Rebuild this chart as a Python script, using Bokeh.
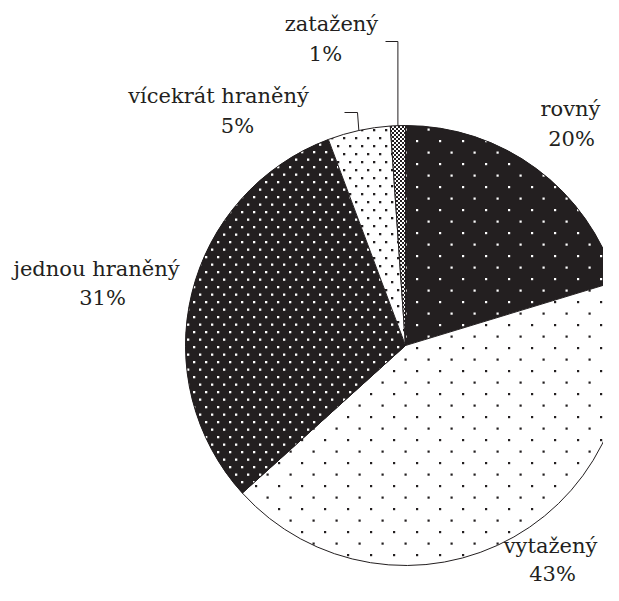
import base64
import math
from bokeh.plotting import figure, ColumnDataSource
from bokeh.models import Range1d, ImageURLTexture
from bokeh.core.properties import value, field
from bokeh.embed import file_html
from bokeh.resources import INLINE

# ---- data (clockwise from 12 o'clock) ----
categories = ["rovný", "vytažený", "jednou hraněný", "vícekrát hraněný", "zatažený"]
shares = [20.3, 43.0, 31.0, 4.6, 1.1]
pct_labels = [f"{round(v)}%" for v in shares]

# ---- layout (pixel coordinates of the 619x601 picture) ----
IMG_H = 601
CX, CY, R = 405, 345, 220
INK = "#231f20"
W, H = 603, 585
TEXT_DY = -10  # renderer places baselines ~10px low

def Y(py):
    return IMG_H - py

# label positions: (name x, name baseline, pct x, pct baseline)
label_pos = {
    "rovný": (570, 118, 571, 148),
    "vytažený": (550, 555, 552, 583),
    "jednou hraněný": (96, 278, 102, 307),
    "vícekrát hraněný": (218, 105, 237, 135),
    "zatažený": (331, 33, 325, 63),
}
# leader lines: elbow points after the rim point
leader_pts = {
    "zatažený": [(None, 41), (385, 41)],
    "vícekrát hraněný": [(357, 112), (344, 112)],
}

def tile(w, h, bg, fg, dots, s):
    rects = "".join(
        f'<rect x="{x}" y="{y}" width="{s}" height="{s}" fill="{fg}"/>' for x, y in dots
    )
    svg = (f'<svg xmlns="http://www.w3.org/2000/svg" width="{w}" height="{h}">'
           f'<rect width="{w}" height="{h}" fill="{bg}"/>{rects}</svg>')
    return "data:image/svg+xml;base64," + base64.b64encode(svg.encode()).decode()

textures = {
    "pA": ImageURLTexture(url=tile(23, 23, INK, "white", [(2, 2), (13.5, 13.5)], 2.2)),
    "pB": ImageURLTexture(url=tile(23, 23, "white", INK, [(2, 2), (13.5, 13.5)], 2.2)),
    "pC": ImageURLTexture(url=tile(12, 15, INK, "white", [(1, 1), (7, 8.5)], 2.3)),
    "pD": ImageURLTexture(url=tile(12, 16, "white", INK, [(1, 1), (7, 9)], 2.3)),
    "pE": ImageURLTexture(url=tile(4, 4, "white", INK, [(0, 0), (2, 2)], 2)),
}
slice_pattern = ["pA", "pB", "pC", "pD", "pE"]
slice_fill = [INK, "white", INK, "white", "white"]

total = sum(shares)
cum = 0.0
starts, ends, mids = [], [], []
for v in shares:
    a0 = cum / total * 360.0
    cum += v
    a1 = cum / total * 360.0
    starts.append(math.radians(90 - a1))
    ends.append(math.radians(90 - a0))
    mids.append((a0 + a1) / 2)

src = ColumnDataSource(dict(
    cat=categories, start=starts, end=ends,
    color=slice_fill, pat=slice_pattern,
))

p = figure(width=W, height=H, output_backend="svg", toolbar_location=None,
           x_range=Range1d(0, W), y_range=Range1d(Y(H), Y(0)),
           x_axis_type=None, y_axis_type=None,
           min_border=0, outline_line_color=None, background_fill_color="white")
p.grid.visible = False

p.wedge(x=CX, y=Y(CY), radius=R, start_angle="start", end_angle="end",
        fill_color="color", hatch_pattern=field("pat"), hatch_extra=textures,
        line_color=INK, line_width=1, source=src)

# leader lines
for cat, pts in leader_pts.items():
    i = categories.index(cat)
    th = math.radians(mids[i])
    rx = CX + R * math.sin(th)
    ry = CY - R * math.cos(th)
    xs, ys = [rx], [ry]
    for ex, ey in pts:
        xs.append(rx if ex is None else ex)
        ys.append(ey)
    p.line(xs, [Y(v) for v in ys], line_color=INK, line_width=1)

# labels
nx, ny, px_, py_ = [], [], [], []
for cat in categories:
    a, b, c, d = label_pos[cat]
    nx.append(a); ny.append(Y(b + TEXT_DY)); px_.append(c); py_.append(Y(d + TEXT_DY))

common = dict(text_font=value("DejaVu Serif"),
              text_font_size="21px",
              text_align="center", text_baseline="alphabetic", text_color=INK)
p.text(x=nx, y=ny, text=categories, **common)
p.text(x=px_, y=py_, text=pct_labels, **common)

open("out.html", "w").write(file_html(p, INLINE))
